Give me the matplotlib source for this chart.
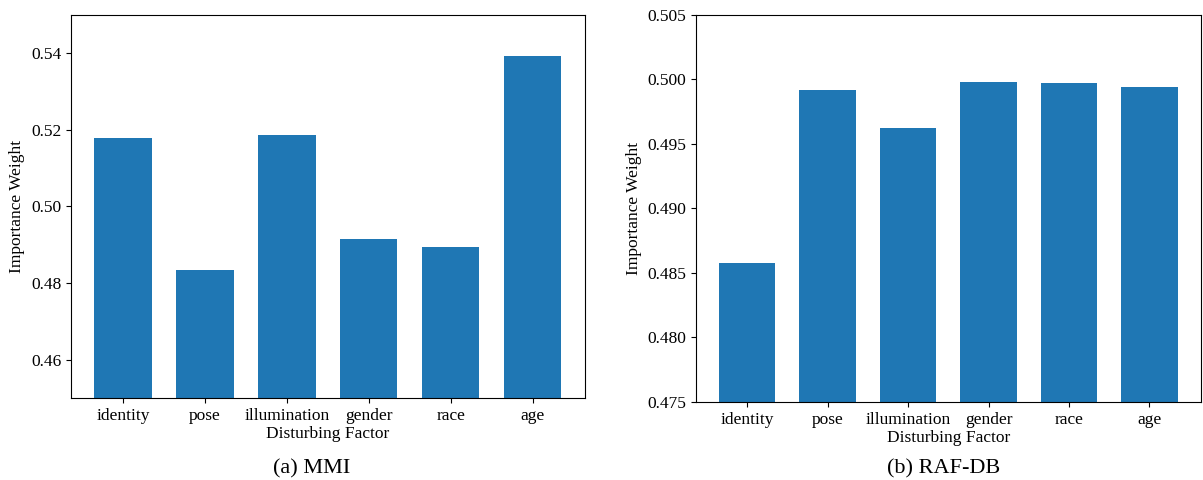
import numpy as np
import matplotlib
matplotlib.use("Agg")
import matplotlib.pyplot as plt

plt.rcParams['font.family'] = ['Liberation Serif', 'DejaVu Serif']
plt.rcParams['font.size'] = 12.5

factors = ["identity", "pose", "illumination", "gender", "race", "age"]
mmi_weights = [0.5179, 0.4833, 0.5186, 0.4915, 0.4894, 0.5392]
raf_weights = [0.4858, 0.4992, 0.4962, 0.4998, 0.4997, 0.4994]

fig = plt.figure(figsize=(12.03, 4.8), dpi=100)
ax1 = fig.add_axes([0.059, 0.171, 0.427, 0.798])
ax2 = fig.add_axes([0.5786, 0.1625, 0.4194, 0.8065])

x = np.arange(len(factors))

ax1.bar(x, mmi_weights, width=0.7, color="#1f77b4")
ax1.set_ylim(0.45, 0.55)
ax1.set_yticks([0.46, 0.48, 0.50, 0.52, 0.54])
ax1.set_yticklabels(["0.46", "0.48", "0.50", "0.52", "0.54"])

ax2.bar(x, raf_weights, width=0.7, color="#1f77b4")
ax2.set_ylim(0.475, 0.505)
ax2.set_yticks([0.475, 0.480, 0.485, 0.490, 0.495, 0.500, 0.505])
ax2.set_yticklabels(["0.475", "0.480", "0.485", "0.490", "0.495", "0.500", "0.505"])

for ax in (ax1, ax2):
    ax.set_xticks(x)
    ax.set_xticklabels(factors)
    ax.set_xlabel("Disturbing Factor", labelpad=2)
    ax.set_ylabel("Importance Weight")

fig.text(0.2594, 0.024, "(a) MMI", ha="center", va="center", fontsize=16)
fig.text(0.7843, 0.024, "(b) RAF-DB", ha="center", va="center", fontsize=16)

fig.savefig("out.png", dpi=100)
